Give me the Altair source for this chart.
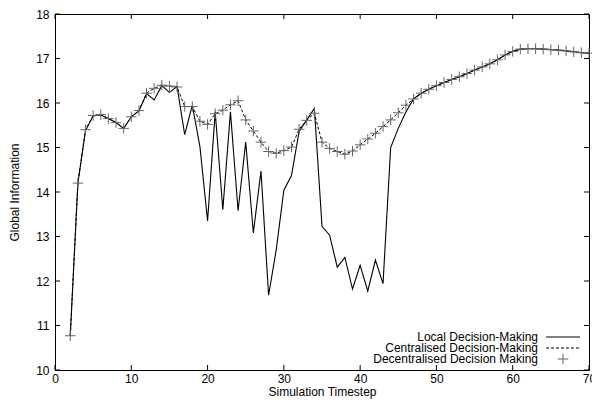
import altair as alt
import pandas as pd

timesteps = [2, 3, 4, 5, 6, 7, 8, 9, 10, 11, 12, 13, 14, 15, 16, 17, 18, 19, 20,
             21, 22, 23, 24, 25, 26, 27, 28, 29, 30, 31, 32, 33, 34, 35, 36, 37,
             38, 39, 40, 41, 42, 43, 44, 45, 46, 47, 48, 49, 50, 51, 52, 53, 54,
             55, 56, 57, 58, 59, 60, 61, 62, 63, 64, 65, 66, 67, 68, 69, 70]

local = [10.77, 14.20, 15.38, 15.71, 15.73, 15.65, 15.56, 15.43, 15.69, 15.82,
         16.21, 16.07, 16.39, 16.24, 16.37, 15.29, 15.95, 15.02, 13.35, 15.80,
         13.60, 15.80, 13.58, 15.12, 13.08, 14.47, 11.68, 12.70, 14.04, 14.37,
         15.36, 15.62, 15.88, 13.23, 13.03, 12.31, 12.53, 11.82, 12.35, 11.77,
         12.47, 11.94, 15.00, 15.43, 15.80, 16.09, 16.22, 16.31, 16.39, 16.46,
         16.53, 16.59, 16.66, 16.74, 16.81, 16.88, 16.97, 17.08, 17.16, 17.21,
         17.22, 17.22, 17.21, 17.20, 17.19, 17.17, 17.15, 17.13, 17.12]

centralised = [10.77, 14.20, 15.40, 15.72, 15.74, 15.65, 15.56, 15.43, 15.69, 15.83,
               16.22, 16.33, 16.40, 16.38, 16.36, 15.92, 15.92, 15.59, 15.52, 15.76,
               15.84, 15.96, 16.05, 15.62, 15.37, 15.12, 14.91, 14.87, 14.93, 15.01,
               15.41, 15.61, 15.77, 15.12, 14.98, 14.91, 14.85, 14.92, 15.06, 15.19,
               15.32, 15.47, 15.62, 15.78, 15.95, 16.09, 16.22, 16.31, 16.39, 16.46,
               16.53, 16.59, 16.66, 16.74, 16.81, 16.88, 16.97, 17.08, 17.16, 17.21,
               17.22, 17.22, 17.21, 17.20, 17.19, 17.17, 17.15, 17.13, 17.12]

decentralised = [10.77, 14.20, 15.40, 15.72, 15.74, 15.65, 15.56, 15.43, 15.69, 15.83,
                 16.22, 16.33, 16.40, 16.38, 16.36, 15.92, 15.92, 15.59, 15.52, 15.76,
                 15.84, 15.96, 16.05, 15.62, 15.37, 15.12, 14.91, 14.87, 14.93, 15.01,
                 15.41, 15.61, 15.77, 15.12, 14.98, 14.91, 14.85, 14.92, 15.06, 15.19,
                 15.32, 15.47, 15.62, 15.78, 15.95, 16.09, 16.22, 16.31, 16.39, 16.46,
                 16.53, 16.59, 16.66, 16.74, 16.81, 16.88, 16.97, 17.08, 17.16, 17.21,
                 17.22, 17.22, 17.21, 17.20, 17.19, 17.17, 17.15, 17.13, 17.12]

series_names = ["Local Decision-Making", "Centralised Decision-Making",
                "Decentralised Decision Making"]
x_ticks = [0, 10, 20, 30, 40, 50, 60, 70]
y_ticks = [10, 11, 12, 13, 14, 15, 16, 17, 18]

W, H = 534, 356
FONT = "Liberation Sans"
PLUS = "M-1,0H1M0,-1V1"

df = pd.DataFrame({"t": timesteps, "local": local,
                   "central": centralised, "decentral": decentralised})

xs = alt.Scale(domain=[0, 70], nice=False, zero=False)
ys = alt.Scale(domain=[10, 18], nice=False, zero=False)

xaxis = alt.Axis(values=x_ticks, ticks=False, grid=False, domain=False,
                 labelPadding=3, title="Simulation Timestep", titlePadding=2,
                 labelFontSize=12, titleFontSize=12, titleFontWeight="normal",
                 labelColor="black", titleColor="black", labelFont=FONT,
                 titleFont=FONT, labelFlush=False, labelOverlap=False)
yaxis = alt.Axis(values=y_ticks, ticks=False, grid=False, domain=False,
                 labelPadding=6, title="Global Information", titlePadding=14,
                 labelFontSize=12, titleFontSize=12, titleFontWeight="normal",
                 labelColor="black", titleColor="black", labelFont=FONT,
                 titleFont=FONT, labelFlush=False, labelOverlap=False)

X = alt.X("t:Q", scale=xs, axis=xaxis)

local_line = alt.Chart(df).mark_line(color="black", strokeWidth=1.1).encode(
    x=X, y=alt.Y("local:Q", scale=ys, axis=yaxis))
central_line = alt.Chart(df).mark_line(color="black", strokeWidth=1,
                                       strokeDash=[3, 2]).encode(
    x=X, y=alt.Y("central:Q", scale=ys, axis=yaxis))
decentral_pts = alt.Chart(df).mark_point(shape=PLUS, size=110, filled=False,
                                         color="#666", strokeWidth=1,
                                         opacity=1).encode(
    x=X, y=alt.Y("decentral:Q", scale=ys, axis=yaxis))

# inward ticks (gnuplot style) on all four sides
xt = pd.DataFrame({"v": x_ticks})
yt = pd.DataFrame({"v": y_ticks})
TL = 5
xb = alt.Chart(xt).mark_rule(color="black", strokeWidth=1).encode(
    x=alt.X("v:Q", scale=xs, axis=xaxis), y=alt.value(H), y2=alt.value(H - TL))
xtop = alt.Chart(xt).mark_rule(color="black", strokeWidth=1).encode(
    x=alt.X("v:Q", scale=xs, axis=xaxis), y=alt.value(0), y2=alt.value(TL))
yl = alt.Chart(yt).mark_rule(color="black", strokeWidth=1).encode(
    y=alt.Y("v:Q", scale=ys, axis=yaxis), x=alt.value(0), x2=alt.value(TL))
yr = alt.Chart(yt).mark_rule(color="black", strokeWidth=1).encode(
    y=alt.Y("v:Q", scale=ys, axis=yaxis), x=alt.value(W - TL), x2=alt.value(W))

# legend (inside, bottom right, gnuplot style: text then sample)
rows_y = [323, 334, 345]
TX, L1, L2, PX = 483, 491, 525, 508
legend_layers = []
for i, name in enumerate(series_names):
    ld = pd.DataFrame({"label": [name]})
    legend_layers.append(
        alt.Chart(ld).mark_text(align="right", baseline="middle", fontSize=12,
                                font=FONT, color="black").encode(
            text="label:N", x=alt.value(TX), y=alt.value(rows_y[i])))
ld0 = pd.DataFrame({"label": [series_names[0]]})
ld1 = pd.DataFrame({"label": [series_names[1]]})
ld2 = pd.DataFrame({"label": [series_names[2]]})
legend_layers.append(alt.Chart(ld0).mark_rule(color="black", strokeWidth=1.1).encode(
    x=alt.value(L1), x2=alt.value(L2), y=alt.value(rows_y[0])))
legend_layers.append(alt.Chart(ld1).mark_rule(color="black", strokeWidth=1,
                                              strokeDash=[3, 2]).encode(
    x=alt.value(L1), x2=alt.value(L2), y=alt.value(rows_y[1])))
legend_layers.append(alt.Chart(ld2).mark_point(shape=PLUS, size=110, filled=False,
                                               color="#666", strokeWidth=1,
                                               opacity=1).encode(
    x=alt.value(PX), y=alt.value(rows_y[2])))

chart = alt.layer(local_line, central_line, decentral_pts, xb, xtop, yl, yr,
                  *legend_layers).properties(
    width=W, height=H,
    autosize=alt.AutoSizeParams(type="none"),
    padding={"left": 47, "top": 6, "right": 3, "bottom": 30},
    background="white",
).configure_view(stroke="black", strokeWidth=1)

chart.save("out.html", embed_options={"renderer": "svg", "actions": False})
